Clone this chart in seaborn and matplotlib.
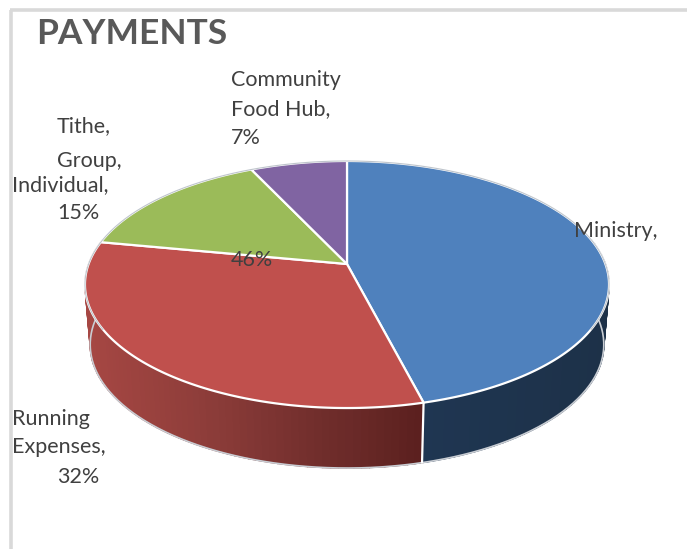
import numpy as np
import seaborn as sns
import matplotlib.pyplot as plt

title = "PAYMENTS"
categories = ["Ministry", "Running Expenses", "Tithe, Group, Individual", "Community Food Hub"]
shares = [46, 32, 15, 7]

top_colors = ["#4F81BD", "#C0504D", "#9BBB59", "#8064A2"]
# side wall shading, left to right across each visible side
side_colors = {0: ["#1F3652", "#1D3148"], 1: ["#A64743", "#8E3D3A", "#722F2D", "#5A1F1E"]}

# label lines: text, left edge, line centre (pixels)
label_lines = [
    ("Community", 231, 80), ("Food Hub,", 231, 109), ("7%", 231, 138),
    ("Tithe,", 57, 126), ("Group,", 57, 161), ("Individual,", 12, 185), ("15%", 57, 213),
    ("Ministry,", 574, 231), ("46%", 231, 260),
    ("Running", 12, 419), ("Expenses,", 12, 447), ("32%", 57, 477),
]

sns.set_theme(style="white")
plt.rcParams['font.family'] = ['Lato', 'DejaVu Sans']

W, H = 687, 549
fig = plt.figure(figsize=(W / 100, H / 100), dpi=100, facecolor="white")

# pie only used for its slice angles, the tilted shape is drawn below
helper = fig.add_axes([0, 0, 0.01, 0.01])
wedges, _ = helper.pie(shares, startangle=90, counterclock=False)
angles = [(w.theta1, w.theta2) for w in wedges]
helper.set_visible(False)

ax = fig.add_axes([0, 0, 1, 1])
ax.set_xlim(0, W)
ax.set_ylim(H, 0)
ax.axis("off")

# perspective of the tilted disc, in pixels
CX, K, C, A, B = 347, 258.4, 0.166, -76.3, 264
DEPTH, SHRINK = 60, 0.98


def project(theta):
    t = np.radians(theta)
    x, y = np.cos(t), np.sin(t)
    d = 1 + C * y
    return CX + K * x / d, (A * y + B) / d


# frame
ax.plot([11, 11], [H, 9.5], color="#D9D9D9", lw=2.6, solid_capstyle="butt")
ax.plot([10, W], [9.5, 9.5], color="#D9D9D9", lw=2.6, solid_capstyle="butt")

# side wall, shade follows the x position
wall_ranges = {0: (angles[0][0], 12), 1: (-192, angles[0][0])}
for i, shades in side_colors.items():
    th = np.linspace(*wall_ranges[i], 81)
    pal = sns.blend_palette(shades, 128)
    xt, yt = project(th)
    xb, yb = CX + (xt - CX) * SHRINK, yt + DEPTH
    for j in range(len(th) - 1):
        frac = (xt[j] - xt.min()) / (xt.max() - xt.min())
        ax.fill([xt[j], xt[j + 1], xb[j + 1], xb[j]], [yt[j], yt[j + 1], yb[j + 1], yb[j]],
                color=pal[int(frac * 127)], lw=1.0, zorder=2)

# outline of the wall and seam between the two visible sides
th = np.linspace(-192, 12, 300)
xt, yt = project(th)
ax.plot(CX + (xt - CX) * SHRINK, yt + DEPTH, color="#C9CDD3", lw=1.2, zorder=3)
sx, sy = project(angles[0][0])
ax.plot([sx, CX + (sx - CX) * SHRINK], [sy, sy + DEPTH], color="white", lw=1.6, zorder=3)

# top surface
ax_center = (CX, B)
for (t1, t2), col in zip(angles, top_colors):
    xs, ys = project(np.linspace(t1, t2, 200))
    ax.fill(np.r_[ax_center[0], xs], np.r_[ax_center[1], ys], facecolor=col,
            edgecolor="white", lw=1.6, joinstyle="round", zorder=4)

# thin grey rim on the back of the disc
xs, ys = project(np.linspace(-30, 210, 300))
ax.plot(xs, ys, color="#BFC5CC", lw=0.8, zorder=5)

ax.text(36, 34, title, fontsize=25.5, fontweight="bold", color="#595959", va="center", ha="left", zorder=6)
for txt, x, y in label_lines:
    ax.text(x, y, txt, fontsize=15.5, color="#404040", va="center", ha="left", zorder=6)

fig.savefig("out.png", dpi=100)
